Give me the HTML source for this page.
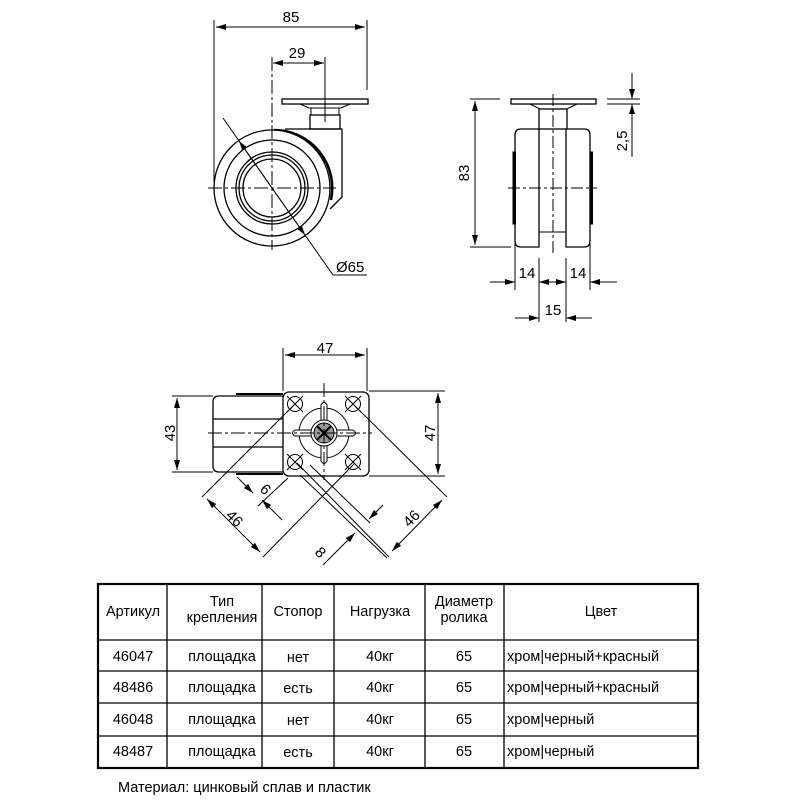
<!DOCTYPE html>
<html><head><meta charset="utf-8"><style>
body{margin:0;background:#fff;width:800px;height:800px;overflow:hidden}
svg{position:absolute;left:0;top:0}
text{font-family:"Liberation Sans",Arial,sans-serif;fill:#000}
</style></head><body>
<svg width="800" height="800" viewBox="0 0 800 800" xmlns="http://www.w3.org/2000/svg">
<defs>
<marker id="a" viewBox="0 0 10 6" refX="10" refY="3" markerWidth="10" markerHeight="6" orient="auto-start-reverse" markerUnits="userSpaceOnUse"><path d="M0,0 L10,3 L0,6 z" fill="#000"/></marker>
</defs>
<g stroke="#000" fill="none" stroke-width="1">
<!-- SIDE VIEW -->
<line x1="214" y1="20" x2="214" y2="182"/>
<line x1="367" y1="20" x2="367" y2="90"/>
<line x1="216" y1="27" x2="365" y2="27" marker-start="url(#a)" marker-end="url(#a)"/>
<line x1="272" y1="57" x2="272" y2="250" stroke-dasharray="14,3,3,3"/>
<line x1="325" y1="57" x2="325" y2="122"/>
<line x1="273" y1="63" x2="324" y2="63" marker-start="url(#a)" marker-end="url(#a)"/>
<rect x="282" y="99" width="86" height="5" stroke-width="1.3"/>
<path d="M300,104 L309,108 L341,108 L350,104"/>
<rect x="311" y="108" width="28" height="7"/>
<rect x="310" y="115" width="30" height="14" stroke-width="1.3"/>
<path d="M285,129 L342,129 L342,197 L330,209" stroke-width="1.3"/>
<path d="M274,130 A58,58 0 0 1 331,200" stroke-width="2.5"/>
<circle cx="272" cy="188" r="58" fill="#fff" stroke-width="1.3"/>
<circle cx="272" cy="188" r="48" stroke-width="1.3"/>
<circle cx="272" cy="188" r="36" stroke-width="1.3"/>
<circle cx="272" cy="188" r="33" stroke-width="1.3"/>
<circle cx="272" cy="188" r="29" stroke-width="1.3"/>
<line x1="208" y1="188" x2="336" y2="188" stroke-dasharray="14,3,3,3"/>
<line x1="272" y1="125" x2="272" y2="250" stroke-dasharray="14,3,3,3"/>
<line x1="223" y1="118" x2="333" y2="275"/>
<line x1="272" y1="188" x2="239" y2="141" marker-end="url(#a)"/>
<line x1="272" y1="188" x2="305" y2="235" marker-end="url(#a)"/>
<line x1="333" y1="275" x2="367" y2="275"/>
<!-- FRONT VIEW -->
<rect x="511" y="99" width="85" height="5" stroke-width="1.3"/>
<path d="M530,104 L540,109 L567,109 L577,104"/>
<rect x="539" y="109" width="28" height="20" stroke-width="1.3"/>
<path d="M539,129 L539,247 L521,247 Q515,247 515,241 L515,135 Q515,129 521,129 L539,129" stroke-width="1.3"/>
<path d="M566,129 L566,247 L584,247 Q590,247 590,241 L590,135 Q590,129 584,129 L566,129" stroke-width="1.3"/>
<line x1="539" y1="232" x2="566" y2="232"/>
<line x1="539" y1="129" x2="566" y2="129"/>
<rect x="513" y="152" width="2.5" height="72" fill="#000"/>
<rect x="590" y="152" width="2.5" height="72" fill="#000"/>
<line x1="553" y1="94" x2="553" y2="256" stroke-dasharray="12,3,3,3"/>
<line x1="508" y1="188" x2="597" y2="188" stroke-dasharray="12,3,3,3"/>
<line x1="470" y1="99" x2="500" y2="99"/>
<line x1="470" y1="247" x2="511" y2="247"/>
<line x1="475" y1="101" x2="475" y2="245" marker-start="url(#a)" marker-end="url(#a)"/>
<line x1="607" y1="99" x2="640" y2="99"/>
<line x1="607" y1="104" x2="640" y2="104"/>
<line x1="632" y1="73" x2="632" y2="99" marker-end="url(#a)"/>
<line x1="632" y1="157" x2="632" y2="104" marker-end="url(#a)"/>
<line x1="515" y1="236" x2="515" y2="290"/>
<line x1="590" y1="236" x2="590" y2="290"/>
<line x1="539" y1="258" x2="539" y2="322"/>
<line x1="566" y1="258" x2="566" y2="322"/>
<line x1="490" y1="282" x2="515" y2="282" marker-end="url(#a)"/>
<line x1="539" y1="282" x2="566" y2="282" marker-start="url(#a)" marker-end="url(#a)"/>
<line x1="617" y1="282" x2="590" y2="282" marker-end="url(#a)"/>
<line x1="515" y1="318" x2="539" y2="318" marker-end="url(#a)"/>
<line x1="592" y1="318" x2="566" y2="318" marker-end="url(#a)"/>
<!-- TOP VIEW -->
<line x1="283" y1="348" x2="283" y2="391"/>
<line x1="367" y1="348" x2="367" y2="391"/>
<line x1="285" y1="355" x2="365" y2="355" marker-start="url(#a)" marker-end="url(#a)"/>
<path d="M283,396 L219,396 Q213,396 213,402 L213,466 Q213,472 219,472 L283,472" stroke-width="1.3"/>
<line x1="236" y1="394" x2="283" y2="394" stroke-width="2"/>
<line x1="236" y1="474" x2="283" y2="474" stroke-width="2"/>
<line x1="213" y1="419" x2="283" y2="419" stroke-width="1.3"/>
<line x1="213" y1="447" x2="283" y2="447" stroke-width="1.3"/>
<rect x="283" y="392" width="86" height="84" rx="6" fill="#fff" stroke-width="1.3"/>
<circle cx="324" cy="433" r="25"/>
<path d="M321,405 Q324,400 327,405 L327,430 L353,430 Q358,433 353,436 L327,436 L327,461 Q324,466 321,461 L321,436 L295,436 Q290,433 295,430 L321,430 Z" fill="#fff"/>
<circle cx="324" cy="433" r="13" fill="#fff"/>
<circle cx="324" cy="433" r="10" fill="#999"/>
<path d="M317,426 L331,440 M331,426 L317,440" stroke="#000" stroke-width="2"/>
<line x1="208" y1="433" x2="372" y2="433" stroke-dasharray="14,3,3,3"/>
<line x1="324" y1="383" x2="324" y2="480" stroke-dasharray="14,3,3,3"/>
<g>
<circle cx="295" cy="404" r="7.5"/><circle cx="353" cy="404" r="7.5"/>
<circle cx="295" cy="462" r="7.5"/><circle cx="353" cy="462" r="7.5"/>
<path d="M287,396 l16,16 M303,396 l-16,16 M345,396 l16,16 M361,396 l-16,16 M287,454 l16,16 M303,454 l-16,16 M345,454 l16,16 M361,454 l-16,16"/>
</g>
<line x1="172" y1="396" x2="213" y2="396"/>
<line x1="172" y1="472" x2="213" y2="472"/>
<line x1="177" y1="398" x2="177" y2="470" marker-start="url(#a)" marker-end="url(#a)"/>
<line x1="369" y1="391" x2="445" y2="391"/>
<line x1="369" y1="476" x2="445" y2="476"/>
<line x1="438" y1="393" x2="438" y2="474" marker-start="url(#a)" marker-end="url(#a)"/>
<!-- diagonal 46 left -->
<line x1="293" y1="406" x2="202" y2="497"/>
<line x1="355" y1="463" x2="263" y2="557"/>
<line x1="207" y1="499" x2="260" y2="552" marker-start="url(#a)" marker-end="url(#a)"/>
<!-- diagonal 46 right -->
<line x1="355" y1="406" x2="447" y2="497"/>
<line x1="297" y1="463" x2="389" y2="557"/>
<line x1="442" y1="500" x2="392" y2="551" marker-start="url(#a)" marker-end="url(#a)"/>
<!-- 6 -->
<line x1="288" y1="478" x2="258" y2="506"/>
<line x1="237" y1="477" x2="253" y2="493" marker-end="url(#a)"/>
<line x1="282" y1="520" x2="262" y2="500" marker-end="url(#a)"/>
<!-- 8 -->
<line x1="310" y1="465" x2="370" y2="523"/>
<line x1="300" y1="475" x2="387" y2="558"/>
<line x1="383" y1="505" x2="369" y2="519" marker-end="url(#a)"/>
<line x1="323" y1="565" x2="355" y2="533" marker-end="url(#a)"/>
<!-- TABLE -->
<rect x="98" y="584" width="600" height="184" stroke-width="2.2"/>
<path d="M167,584 V768 M262,584 V768 M334,584 V768 M425,584 V768 M504,584 V768 M98,640 H698 M98,671 H698 M98,703 H698 M98,736 H698" stroke-width="1.3"/>
</g>
<g font-size="15">
<text x="291" y="22" text-anchor="middle">85</text>
<text x="297" y="58" text-anchor="middle">29</text>
<text x="336" y="272">Ø65</text>
<text transform="translate(469,173) rotate(-90)" text-anchor="middle">83</text>
<text transform="translate(627,141) rotate(-90)" text-anchor="middle">2,5</text>
<text x="527" y="278" text-anchor="middle">14</text>
<text x="578" y="278" text-anchor="middle">14</text>
<text x="553" y="315" text-anchor="middle">15</text>
<text x="325" y="353" text-anchor="middle">47</text>
<text transform="translate(175,433) rotate(-90)" text-anchor="middle">43</text>
<text transform="translate(435,433) rotate(-90)" text-anchor="middle">47</text>
<text transform="translate(231,522) rotate(45)" text-anchor="middle">46</text>
<text transform="translate(415,522) rotate(-45)" text-anchor="middle">46</text>
<text transform="translate(262,493) rotate(45)" text-anchor="middle">6</text>
<text transform="translate(317,556) rotate(45)" text-anchor="middle">8</text>
</g>
<g font-size="14.5" text-anchor="middle">
<text x="133" y="616">Артикул</text>
<text x="222" y="606">Тип</text><text x="222" y="622">крепления</text>
<text x="298" y="616">Стопор</text>
<text x="380" y="616">Нагрузка</text>
<text x="464" y="606">Диаметр</text><text x="464" y="622">ролика</text>
<text x="601" y="616">Цвет</text>
<text x="133" y="661">46047</text><text x="222" y="661">площадка</text><text x="298" y="662">нет</text><text x="380" y="661">40кг</text><text x="464" y="661">65</text>
<text x="133" y="692">48486</text><text x="222" y="692">площадка</text><text x="298" y="693">есть</text><text x="380" y="692">40кг</text><text x="464" y="692">65</text>
<text x="133" y="724">46048</text><text x="222" y="724">площадка</text><text x="298" y="725">нет</text><text x="380" y="724">40кг</text><text x="464" y="724">65</text>
<text x="133" y="756">48487</text><text x="222" y="756">площадка</text><text x="298" y="757">есть</text><text x="380" y="756">40кг</text><text x="464" y="756">65</text>
</g>
<g font-size="14.5">
<text x="507" y="661">хром|черный+красный</text>
<text x="507" y="692">хром|черный+красный</text>
<text x="507" y="724">хром|черный</text>
<text x="507" y="756">хром|черный</text>
<text x="118" y="792">Материал: цинковый сплав и пластик</text>
</g>
</svg>
</body></html>
